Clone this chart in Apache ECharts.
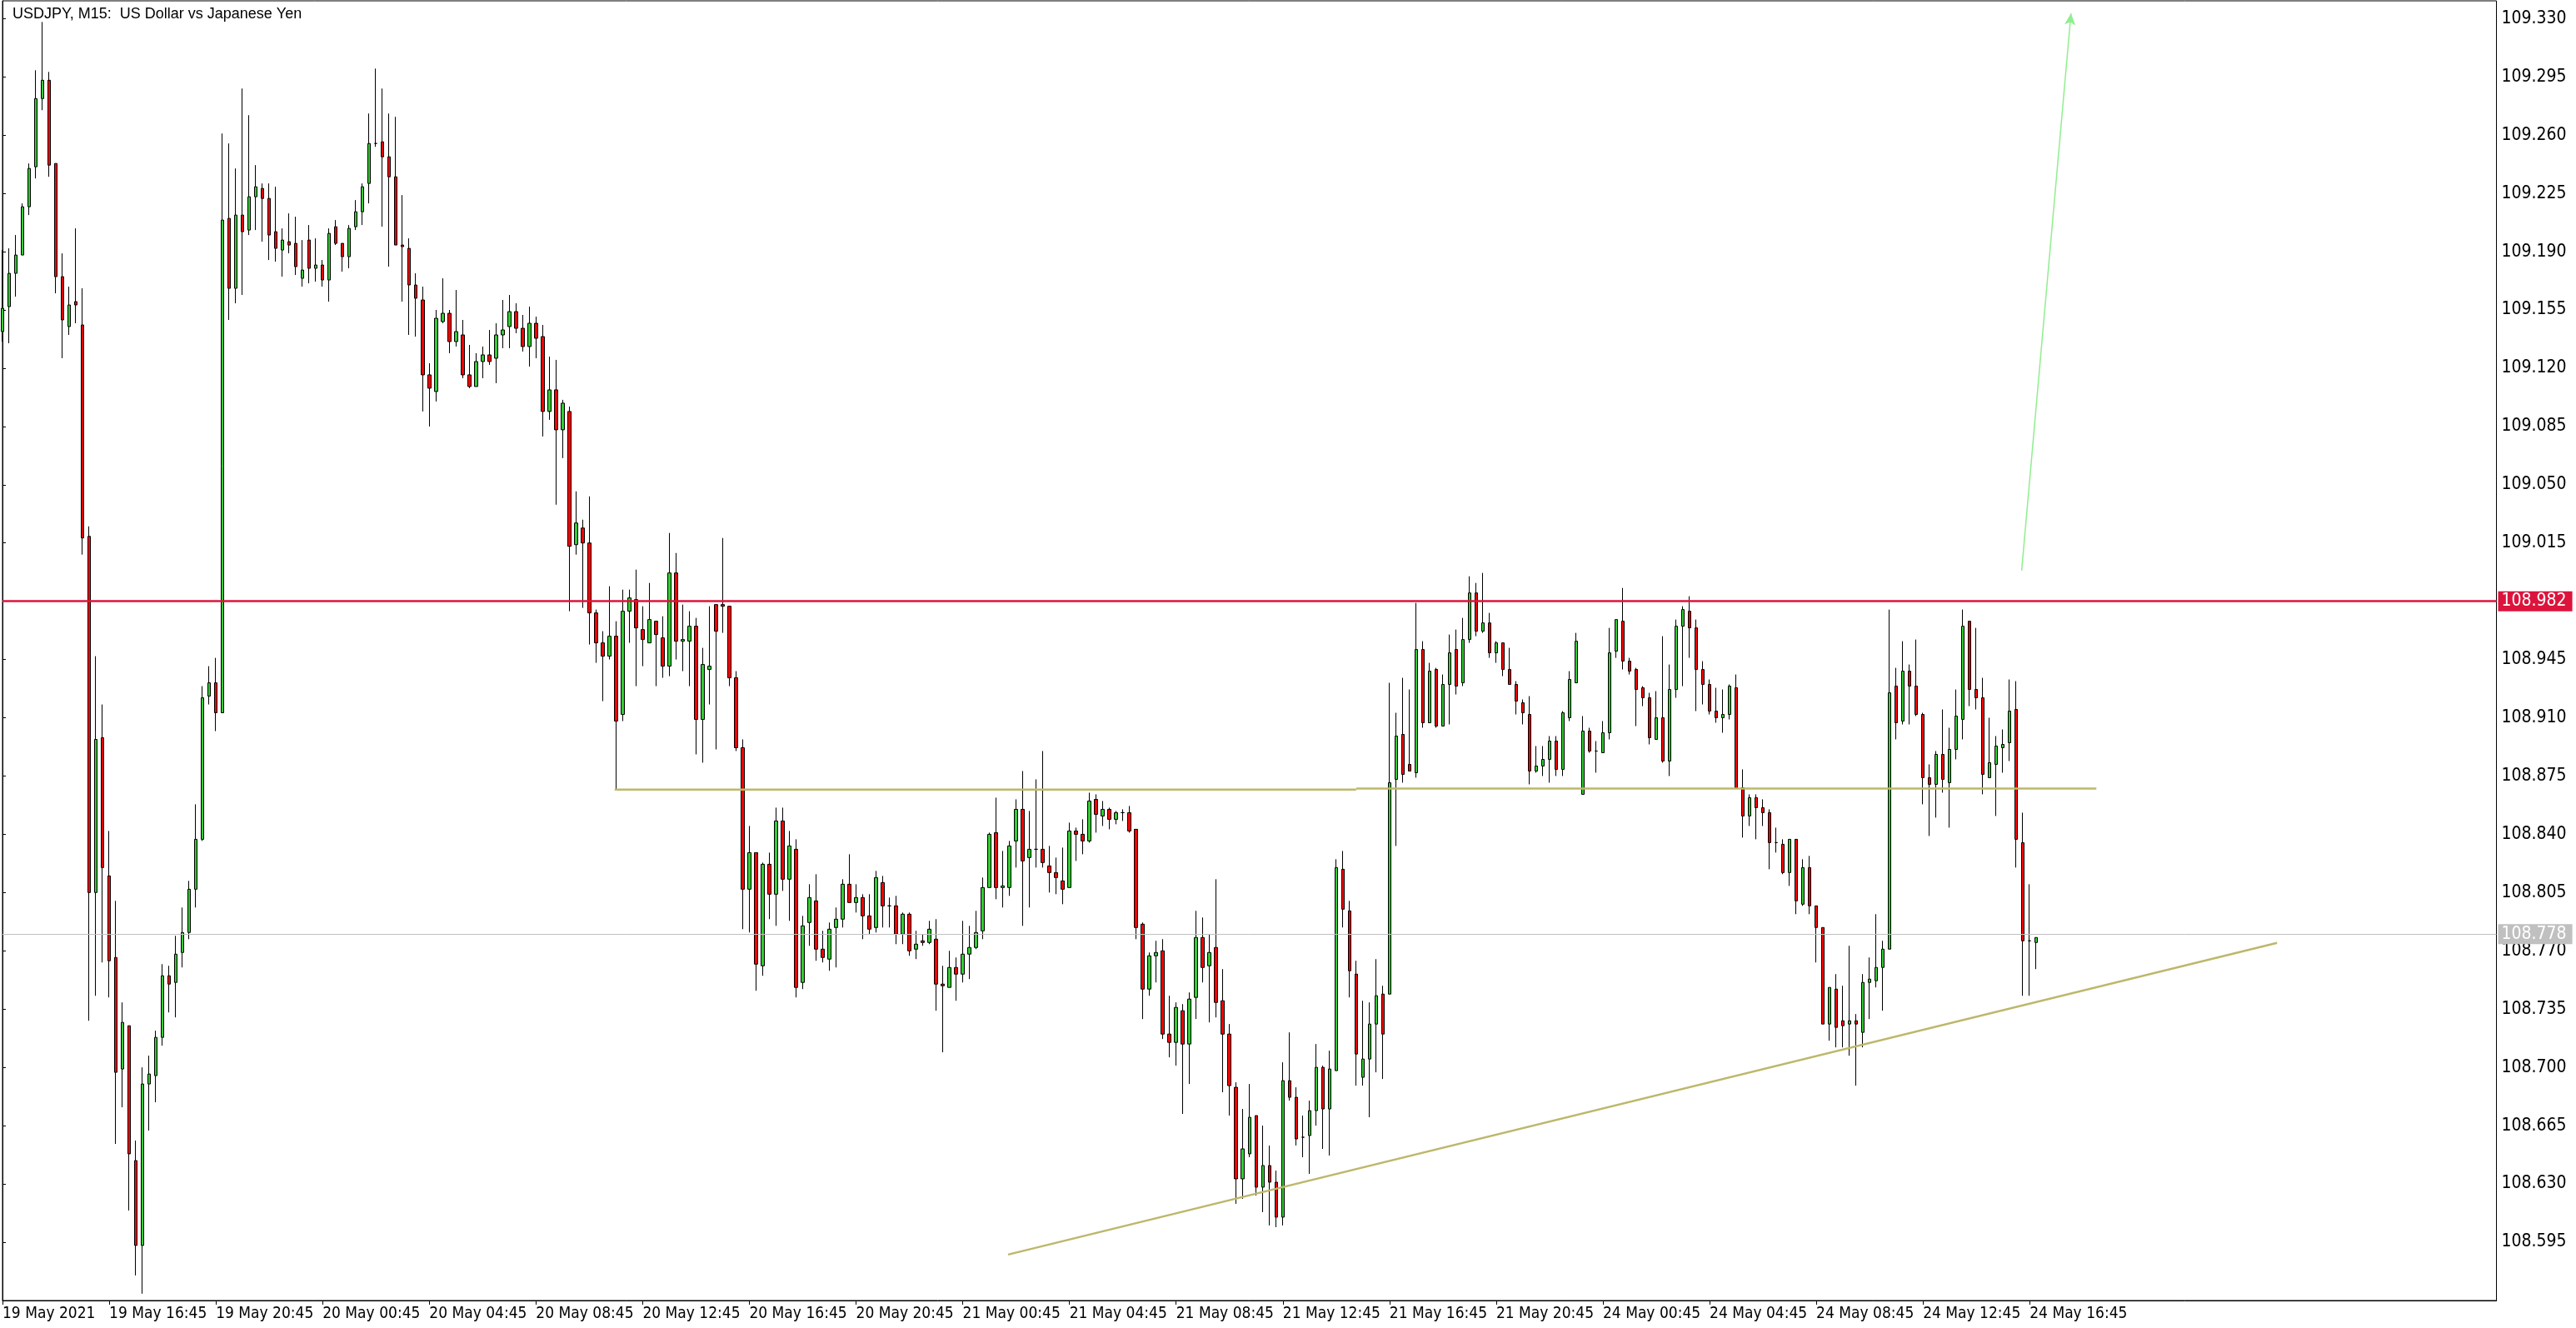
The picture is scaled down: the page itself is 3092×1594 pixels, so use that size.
<!DOCTYPE html>
<html><head><meta charset="utf-8">
<script src="https://cdn.jsdelivr.net/npm/echarts@6/dist/echarts.min.js"></script>
<style>html,body{margin:0;padding:0;background:#fff}#c{width:3092px;height:1594px}</style>
</head><body><div id="c"></div>
<script>
const opens = [109.142,109.157,109.177,109.188,109.217,109.241,109.282,109.293,109.243,109.175,109.145,109.160,109.146,109.019,108.805,108.898,108.815,108.766,108.699,108.725,108.644,108.593,108.690,108.695,108.718,108.755,108.751,108.769,108.781,108.807,108.837,108.923,108.931,108.913,109.210,109.168,109.212,109.203,109.223,109.228,109.222,109.202,109.191,109.196,109.195,109.174,109.197,109.180,109.182,109.173,109.205,109.195,109.187,109.205,109.214,109.231,109.255,109.256,109.247,109.235,109.194,109.192,109.170,109.161,109.116,109.106,109.148,109.153,109.136,109.140,109.116,109.109,109.124,109.128,109.126,109.140,109.145,109.154,109.144,109.133,109.147,109.139,109.094,109.107,109.083,109.094,109.014,109.024,109.015,108.973,108.955,108.947,108.959,108.912,108.974,108.981,108.963,108.955,108.968,108.958,108.941,108.997,108.956,108.956,108.965,108.909,108.939,108.978,108.978,108.977,108.934,108.892,108.807,108.829,108.761,108.822,108.804,108.848,108.813,108.831,108.751,108.787,108.800,108.771,108.765,108.784,108.789,108.810,108.799,108.802,108.791,108.784,108.811,108.797,108.797,108.780,108.792,108.771,108.776,108.775,108.777,108.750,108.748,108.760,108.756,108.768,108.772,108.782,108.808,108.841,108.808,108.808,108.836,108.855,108.826,108.831,108.831,108.821,108.817,108.812,108.808,108.842,108.840,108.836,108.861,108.851,108.855,108.849,108.853,108.853,108.843,108.786,108.747,108.767,108.770,108.720,108.715,108.734,108.714,108.742,108.778,108.761,108.772,108.740,108.720,108.688,108.633,108.648,108.671,108.628,108.641,108.631,108.610,108.692,108.682,108.658,108.659,108.674,108.700,108.675,108.698,108.819,108.794,108.756,108.694,108.705,108.726,108.744,108.744,108.873,108.900,108.882,108.877,108.951,108.907,108.939,108.905,108.930,108.951,108.931,108.957,108.985,108.962,108.967,108.949,108.955,108.939,108.930,108.919,108.912,108.878,108.881,108.885,108.896,108.879,108.910,108.931,108.864,108.902,108.890,108.889,108.901,108.950,108.968,108.944,108.939,108.928,108.922,108.897,108.910,108.884,108.927,108.965,108.974,108.964,108.939,108.930,108.914,108.910,108.912,108.928,108.868,108.851,108.862,108.856,108.853,108.835,108.834,108.817,108.837,108.798,108.820,108.797,108.784,108.726,108.747,108.728,108.726,108.728,108.721,108.751,108.752,108.760,108.771,108.929,108.908,108.938,108.929,108.912,108.874,108.870,108.888,108.871,108.891,108.909,108.968,108.927,108.922,108.874,108.882,108.892,108.895,108.915,108.835,108.776,108.775];
const highs = [109.191,109.192,109.200,109.219,109.243,109.299,109.328,109.298,109.243,109.189,109.169,109.204,109.168,109.025,108.947,108.918,108.842,108.800,108.739,108.725,108.656,108.700,108.707,108.722,108.762,108.761,108.779,108.796,108.812,108.858,108.929,108.941,108.946,109.261,109.255,109.240,109.288,109.272,109.242,109.231,109.231,109.229,109.204,109.213,109.211,109.197,109.206,109.198,109.185,109.204,109.209,109.195,109.206,109.221,109.231,109.273,109.300,109.288,109.273,109.271,109.224,109.198,109.177,109.169,109.123,109.155,109.174,109.155,109.167,109.149,109.134,109.129,109.133,109.143,109.147,109.161,109.164,109.159,109.152,109.157,109.151,109.146,109.127,109.125,109.101,109.097,109.046,109.029,109.043,108.975,108.962,108.989,108.968,108.987,108.987,108.999,108.977,108.991,108.968,108.971,109.021,109.009,108.978,108.974,108.970,108.952,108.977,108.978,109.018,108.977,108.938,108.897,108.845,108.829,108.823,108.829,108.856,108.856,108.842,108.837,108.791,108.810,108.816,108.782,108.787,108.796,108.813,108.828,108.810,108.804,108.804,108.818,108.815,108.802,108.803,108.793,108.793,108.782,108.780,108.788,108.789,108.761,108.770,108.766,108.788,108.785,108.794,108.814,108.841,108.862,108.830,108.836,108.861,108.878,108.854,108.873,108.890,108.833,108.826,108.832,108.847,108.844,108.849,108.865,108.864,108.860,108.856,108.854,108.855,108.857,108.843,108.787,108.769,108.776,108.777,108.743,108.739,108.738,108.745,108.794,108.790,108.780,108.813,108.759,108.726,108.691,108.675,108.690,108.671,108.665,108.653,108.638,108.703,108.721,108.688,108.671,108.680,108.714,108.701,108.710,108.825,108.830,108.800,108.764,108.740,108.739,108.765,108.749,108.931,108.913,108.934,108.927,108.979,108.956,108.943,108.940,108.936,108.960,108.963,108.970,108.995,108.991,108.997,108.973,108.956,108.955,108.952,108.932,108.921,108.923,108.893,108.893,108.899,108.899,108.914,108.938,108.961,108.911,108.904,108.896,108.908,108.964,108.969,108.988,108.946,108.940,108.929,108.925,108.926,108.959,108.942,108.969,108.977,108.983,108.969,108.944,108.933,108.928,108.927,108.930,108.936,108.879,108.864,108.864,108.861,108.855,108.844,108.837,108.837,108.837,108.825,108.827,108.797,108.784,108.748,108.756,108.749,108.773,108.732,108.756,108.766,108.792,108.776,108.975,108.940,108.956,108.942,108.957,108.913,108.882,108.890,108.915,108.904,108.927,108.975,108.968,108.964,108.934,108.910,108.899,108.903,108.933,108.932,108.853,108.810,108.778];
const lows = [109.136,109.135,109.163,109.188,109.212,109.234,109.275,109.235,109.165,109.126,109.140,109.147,109.008,108.728,108.743,108.763,108.742,108.654,108.676,108.614,108.575,108.564,108.662,108.679,108.713,108.733,108.730,108.760,108.777,108.796,108.836,108.918,108.902,108.913,109.149,109.159,109.164,109.200,109.203,109.196,109.185,109.184,109.175,109.189,109.176,109.169,109.171,109.172,109.169,109.160,109.194,109.178,109.180,109.203,109.206,109.219,109.253,109.205,109.181,109.194,109.160,109.140,109.139,109.094,109.085,109.100,109.147,109.129,109.133,109.114,109.108,109.109,109.114,109.122,109.111,109.132,109.132,109.141,109.130,109.121,109.126,109.079,109.089,109.038,109.066,108.974,109.008,108.976,108.954,108.943,108.920,108.945,108.867,108.908,108.955,108.929,108.941,108.955,108.929,108.934,108.935,108.945,108.938,108.929,108.888,108.883,108.918,108.891,108.961,108.929,108.890,108.783,108.781,108.746,108.755,108.789,108.785,108.806,108.788,108.742,108.747,108.773,108.764,108.763,108.758,108.760,108.784,108.799,108.793,108.777,108.780,108.781,108.784,108.784,108.774,108.774,108.767,108.765,108.773,108.774,108.734,108.709,108.748,108.740,108.751,108.753,108.771,108.777,108.808,108.801,108.796,108.803,108.820,108.785,108.796,108.820,108.820,108.805,108.804,108.798,108.808,108.824,108.828,108.835,108.841,108.845,108.843,108.846,108.848,108.841,108.777,108.729,108.743,108.751,108.717,108.706,108.701,108.672,108.690,108.729,108.751,108.727,108.730,108.685,108.671,108.618,108.621,108.646,108.623,108.613,108.605,108.604,108.605,108.680,108.653,108.646,108.636,108.665,108.651,108.647,108.698,108.784,108.742,108.689,108.689,108.670,108.697,108.693,108.744,108.833,108.871,108.878,108.874,108.904,108.907,108.904,108.905,108.906,108.924,108.929,108.955,108.959,108.961,108.946,108.943,108.935,108.930,108.912,108.906,108.870,108.877,108.875,108.871,108.875,108.875,108.908,108.931,108.864,108.889,108.877,108.889,108.897,108.946,108.939,108.936,108.905,108.917,108.894,108.897,108.883,108.875,108.922,108.929,108.946,108.914,108.918,108.912,108.907,108.901,108.909,108.868,108.838,108.845,108.837,108.845,108.819,108.829,108.816,108.809,108.792,108.797,108.792,108.763,108.726,108.716,108.712,108.712,108.707,108.689,108.712,108.729,108.748,108.734,108.771,108.897,108.906,108.906,108.911,108.858,108.839,108.850,108.865,108.844,108.885,108.897,108.917,108.915,108.864,108.874,108.851,108.877,108.884,108.820,108.743,108.743,108.759];
const closes = [109.156,109.177,109.188,109.217,109.240,109.282,109.293,109.242,109.175,109.149,109.158,109.158,109.018,108.805,108.897,108.820,108.764,108.697,108.727,108.648,108.593,108.690,108.696,108.718,108.755,108.750,108.768,108.781,108.807,108.837,108.922,108.931,108.913,109.209,109.168,109.212,109.202,109.223,109.229,109.222,109.200,109.192,109.197,109.194,109.181,109.179,109.180,109.182,109.173,109.201,109.195,109.187,109.204,109.214,109.229,109.255,109.255,109.247,109.235,109.194,109.193,109.170,109.162,109.116,109.108,109.150,109.153,109.136,109.142,109.116,109.109,109.124,109.128,109.124,109.140,109.143,109.154,109.144,109.133,109.147,109.138,109.094,109.107,109.083,109.099,109.013,109.027,109.015,108.973,108.955,108.947,108.959,108.908,108.974,108.982,108.964,108.957,108.969,108.960,108.941,108.997,108.956,108.957,108.965,108.909,108.942,108.941,108.962,108.977,108.934,108.892,108.807,108.829,108.762,108.822,108.804,108.848,108.813,108.833,108.748,108.785,108.802,108.771,108.766,108.783,108.789,108.810,108.799,108.802,108.791,108.783,108.814,108.797,108.797,108.780,108.792,108.770,108.774,108.775,108.783,108.750,108.749,108.760,108.756,108.768,108.772,108.781,108.808,108.840,108.808,108.809,108.833,108.855,108.824,108.831,108.831,108.823,108.817,108.814,108.807,108.842,108.840,108.836,108.860,108.852,108.855,108.849,108.853,108.853,108.842,108.784,108.747,108.767,108.769,108.720,108.715,108.736,108.714,108.741,108.778,108.760,108.769,108.739,108.720,108.689,108.633,108.651,108.670,108.628,108.641,108.631,108.610,108.692,108.682,108.657,108.658,108.674,108.700,108.675,108.699,108.820,108.795,108.758,108.708,108.705,108.726,108.743,108.720,108.871,108.899,108.876,108.878,108.951,108.907,108.938,108.905,108.930,108.949,108.929,108.957,108.985,108.962,108.967,108.949,108.955,108.939,108.930,108.920,108.913,108.878,108.881,108.885,108.896,108.879,108.913,108.933,108.956,108.902,108.890,108.890,108.901,108.949,108.969,108.944,108.938,108.927,108.922,108.898,108.910,108.884,108.927,108.965,108.975,108.964,108.939,108.930,108.914,108.910,108.912,108.929,108.868,108.851,108.862,108.856,108.853,108.835,108.835,108.817,108.837,108.800,108.820,108.797,108.784,108.726,108.748,108.724,108.725,108.728,108.726,108.751,108.753,108.760,108.771,108.925,108.907,108.938,108.929,108.912,108.874,108.870,108.888,108.873,108.891,108.911,108.965,108.927,108.922,108.876,108.883,108.893,108.894,108.914,108.837,108.776,108.776,108.778];

const xTickLabels = ['19 May 2021','19 May 16:45','19 May 20:45','20 May 00:45','20 May 04:45','20 May 08:45','20 May 12:45','20 May 16:45','20 May 20:45','21 May 00:45','21 May 04:45','21 May 08:45','21 May 12:45','21 May 16:45','21 May 20:45','24 May 00:45','24 May 04:45','24 May 08:45','24 May 12:45','24 May 16:45'];
const yTickLabels = ['108.595','108.630','108.665','108.700','108.735','108.770','108.805','108.840','108.875','108.910','108.945','108.980','109.015','109.050','109.085','109.120','109.155','109.190','109.225','109.260','109.295','109.330'];
const resistanceLevel = 108.982;
const bidPrice = 108.778;
// drawn objects: [barIndex, price]
const necklineA = [[91.8, 108.8668], [203, 108.8668]];
const necklineB = [[203, 108.8675], [314, 108.8675]];
const trendLine = [[150.8, 108.5875], [341.1, 108.7748]];
const arrowLine = [[302.8, 108.9984], [310.2, 109.3332]];

(function(){
const TICK_EVERY = 16;
const SLOTS = 375;
function buildTimes(n){
  const mon=['Jan','Feb','Mar','Apr','May','Jun','Jul','Aug','Sep','Oct','Nov','Dec'];
  const out=[]; let t=Date.UTC(2021,4,19,12,45);
  for(let i=0;i<n;i++){
    const d=new Date(t);
    out.push(String(d.getUTCDate()).padStart(2,'0')+' '+mon[d.getUTCMonth()]+' '+String(d.getUTCHours()).padStart(2,'0')+':'+String(d.getUTCMinutes()).padStart(2,'0'));
    t+=15*60000;
    if(d.getUTCDay()===5&&d.getUTCHours()===23&&d.getUTCMinutes()===45) t=Date.UTC(2021,4,24,0,0);
  }
  return out;
}
const categories = buildTimes(SLOTS);
const ohlc = opens.map((o,i)=>[o, closes[i], lows[i], highs[i]]);
const yTickValues = yTickLabels.map(Number);

const FONT = "'Liberation Sans Narrow','DejaVu Sans Condensed','Liberation Sans',sans-serif";
const labelInterval = (i)=> i % TICK_EVERY === 0 && i/TICK_EVERY < xTickLabels.length;
const gTop = 1, gHeight = 1560;
const yMax = 109.3412 - gTop/1998, yMin = 109.3412 - (gTop+gHeight)/1998;

const chart = echarts.init(document.getElementById('c'), null, {renderer:'canvas'});
chart.setOption({
  animation:false,
  backgroundColor:'#ffffff',
  title:{text:'USDJPY, M15:  US Dollar vs Japanese Yen', left:10, top:3,
    textStyle:{fontFamily:"'Liberation Sans',sans-serif", fontSize:18, fontWeight:'normal', color:'#000'}},
  grid:{left:2.5, top:gTop, width:2994, height:gHeight, show:true, borderColor:'#000', borderWidth:1, backgroundColor:'#fff'},
  xAxis:[{
    type:'category', data:categories, boundaryGap:false,
    axisLine:{show:true, lineStyle:{color:'#000', width:1}},
    axisTick:{show:true, interval:labelInterval, length:5, lineStyle:{color:'#000'}},
    axisLabel:{show:true, interval:labelInterval, align:'left', margin:7, color:'#000',
      fontFamily:FONT, fontSize:19,
      formatter:(v,i)=> xTickLabels[i/TICK_EVERY] || ''},
    splitLine:{show:false}
  },{
    type:'value', min:0, max:SLOTS-1, show:false
  }],
  yAxis:[{
    type:'value', position:'right', min:yMin, max:yMax, scale:true,
    axisLine:{show:true, lineStyle:{color:'#000', width:1}},
    axisTick:{show:true, length:4, customValues:yTickValues, lineStyle:{color:'#000'}},
    axisLabel:{show:true, margin:6, color:'#000', fontFamily:FONT, fontSize:21,
      customValues:yTickValues, formatter:(v)=>Number(v).toFixed(3)},
    splitLine:{show:false}
  }],
  series:[
    {type:'candlestick', name:'USDJPY', data:ohlc, xAxisIndex:0, yAxisIndex:0, barWidth:4,
     itemStyle:{color:'#32CD32', color0:'#FF0000', borderColor:'#000', borderColor0:'#000', borderWidth:1},
     markLine:{silent:true, symbol:['none','none'], animation:false,
       data:[
         {yAxis:resistanceLevel, lineStyle:{color:'#DC143C', width:2.5, type:'solid'},
          label:{show:true, position:'end', distance:2, formatter:resistanceLevel.toFixed(3), color:'#fff',
            backgroundColor:'#DC143C', padding:[2,7,1,4], fontFamily:FONT, fontSize:21}},
         {yAxis:bidPrice, lineStyle:{color:'#C0C0C0', width:1, type:'solid'},
          label:{show:true, position:'end', distance:2, formatter:bidPrice.toFixed(3), color:'#fff',
            backgroundColor:'#C0C0C0', padding:[2,7,1,4], fontFamily:FONT, fontSize:21}}
       ]}
    },
    {type:'line', xAxisIndex:1, yAxisIndex:0, data:necklineA, symbol:'none', silent:true,
     lineStyle:{color:'#BDB76B', width:2.5}, z:3},
    {type:'line', xAxisIndex:1, yAxisIndex:0, data:necklineB, symbol:'none', silent:true,
     lineStyle:{color:'#BDB76B', width:2.5}, z:3},
    {type:'line', xAxisIndex:1, yAxisIndex:0, data:trendLine, symbol:'none', silent:true,
     lineStyle:{color:'#BDB76B', width:2.5}, z:3},
    {type:'line', xAxisIndex:1, yAxisIndex:0, data:[], symbol:'none', silent:true,
     markLine:{silent:true, symbol:['none','arrow'], symbolSize:[10,14], animation:false,
       lineStyle:{color:'#90EE90', width:1.5, type:'solid'}, label:{show:false},
       data:[[{coord:arrowLine[0]},{coord:arrowLine[1]}]]}, z:3}
  ]
});
})();
</script>
</body></html>
